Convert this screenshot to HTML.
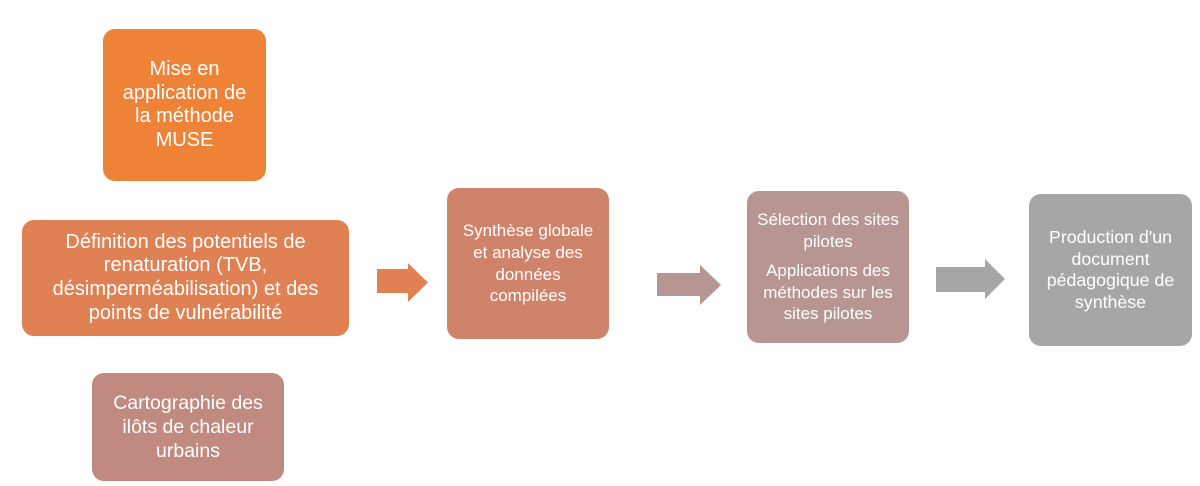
<!DOCTYPE html>
<html>
<head>
<meta charset="utf-8">
<style>
  html, body { margin:0; padding:0; background:#ffffff; }
  body { width:1200px; height:486px; position:relative; overflow:hidden;
         font-family:"Liberation Sans", sans-serif; }
  .box { position:absolute; display:flex; flex-direction:column; align-items:center; justify-content:center;
         text-align:center; color:#ffffff; border-radius:12px; box-sizing:border-box; }
  .box p { margin:0; }
  svg { position:absolute; left:0; top:0; }
</style>
</head>
<body>
<svg width="1200" height="486" viewBox="0 0 1200 486">
  <polygon points="377,269 408,269 408,263 428,282.5 408,302 408,293 377,293" fill="#DF8152"/>
  <polygon points="657,273 700,273 700,265 721,285 700,305 700,296 657,296" fill="#B69592"/>
  <polygon points="936,267 985,267 985,259 1005,279 985,299 985,292 936,292" fill="#A6A6A6"/>
</svg>

<div class="box" style="left:103px;top:29px;width:163px;height:152px;background:#EE8236;font-size:20px;line-height:23.5px;">
  Mise en<br>application de<br>la méthode<br>MUSE
</div>

<div class="box" style="left:22px;top:220px;width:327px;height:116px;background:#DF8152;font-size:20px;line-height:23.7px;">
  Définition des potentiels de<br>renaturation (TVB,<br>désimperméabilisation) et des<br>points de vulnérabilité
</div>

<div class="box" style="left:92px;top:373px;width:192px;height:108px;background:#C08A80;font-size:19.5px;line-height:24px;">
  Cartographie des<br>ilôts de chaleur<br>urbains
</div>

<div class="box" style="left:447px;top:188px;width:162px;height:151px;background:#D0836B;font-size:17px;line-height:21.6px;">
  Synthèse globale<br>et analyse des<br>données<br>compilées
</div>

<div class="box" style="left:747px;top:191px;width:162px;height:152px;background:#B69592;font-size:17px;line-height:21.5px;">
  <p>Sélection des sites<br>pilotes</p>
  <p style="margin-top:8px;">Applications des<br>méthodes sur les<br>sites pilotes</p>
</div>

<div class="box" style="left:1029px;top:194px;width:163px;height:152px;background:#A6A6A6;font-size:17.8px;line-height:21.5px;">
  Production d'un<br>document<br>pédagogique de<br>synthèse
</div>
</body>
</html>
